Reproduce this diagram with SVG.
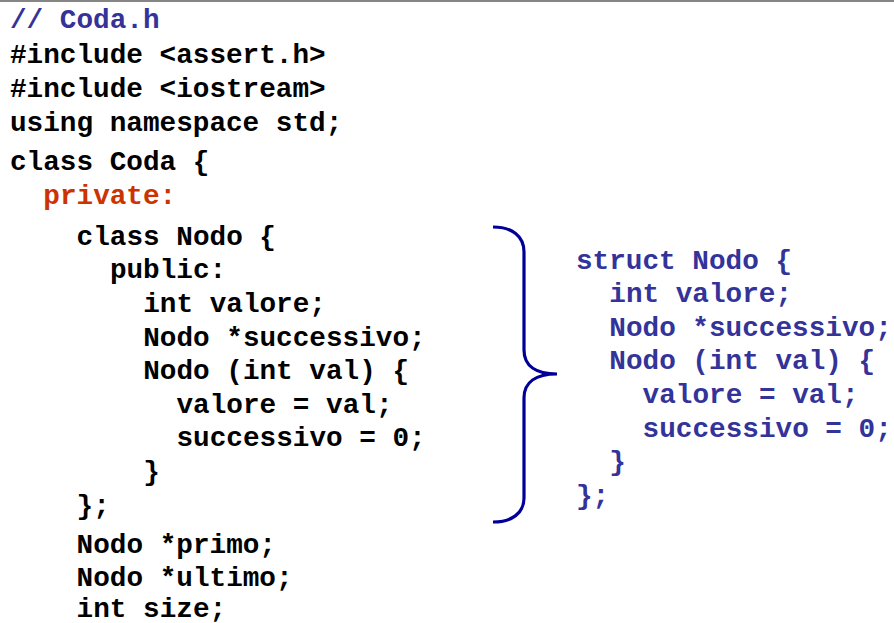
<svg xmlns="http://www.w3.org/2000/svg" width="894" height="623" viewBox="0 0 894 623">
<style>
text{font-family:"Liberation Mono","Courier New",monospace;font-weight:bold;font-size:27.7px;white-space:pre}
.k{fill:#000}
.b{fill:#333399}
.r{fill:#cc3300}
</style>
<rect width="894" height="623" fill="#fff"/>
<line x1="0" y1="1" x2="894" y2="1" stroke="#858585" stroke-width="2"/>
<g id="left-code">
<text class="b" x="10" y="28">// Coda.h</text>
<text class="k" x="10" y="63">#include &lt;assert.h&gt;</text>
<text class="k" x="10" y="97">#include &lt;iostream&gt;</text>
<text class="k" x="10" y="130.5">using namespace std;</text>
<text class="k" x="10" y="170">class Coda {</text>
<text class="r" x="43.3" y="204">private:</text>
<text class="k" x="76.6" y="244.5">class Nodo {</text>
<text class="k" x="109.9" y="278">public:</text>
<text class="k" x="143.2" y="312">int valore;</text>
<text class="k" x="143.2" y="345.5">Nodo *successivo;</text>
<text class="k" x="143.2" y="379">Nodo (int val) {</text>
<text class="k" x="176.5" y="412.5">valore = val;</text>
<text class="k" x="176.5" y="446">successivo = 0;</text>
<text class="k" x="143.2" y="480">}</text>
<text class="k" x="76.6" y="514">};</text>
<text class="k" x="76.6" y="552.5">Nodo *primo;</text>
<text class="k" x="76.6" y="585.5">Nodo *ultimo;</text>
<text class="k" x="76.6" y="616.5">int size;</text>
</g>
<g id="brace">
<path d="M493,227 C512,227 524,236 524,252 L524,350 C524,366 536,374 557,374 C536,374 524,382 524,398 L524,498 C524,513 512,522 493,522" fill="none" stroke="#000099" stroke-width="3.2"/>
</g>
<g id="right-code">
<text class="b" x="576" y="269">struct Nodo {</text>
<text class="b" x="609.3" y="301.5">int valore;</text>
<text class="b" x="609.3" y="335.5">Nodo *successivo;</text>
<text class="b" x="609.3" y="369">Nodo (int val) {</text>
<text class="b" x="642.6" y="403">valore = val;</text>
<text class="b" x="642.6" y="437">successivo = 0;</text>
<text class="b" x="609.3" y="469.5">}</text>
<text class="b" x="576" y="503.5">};</text>
</g>
</svg>
